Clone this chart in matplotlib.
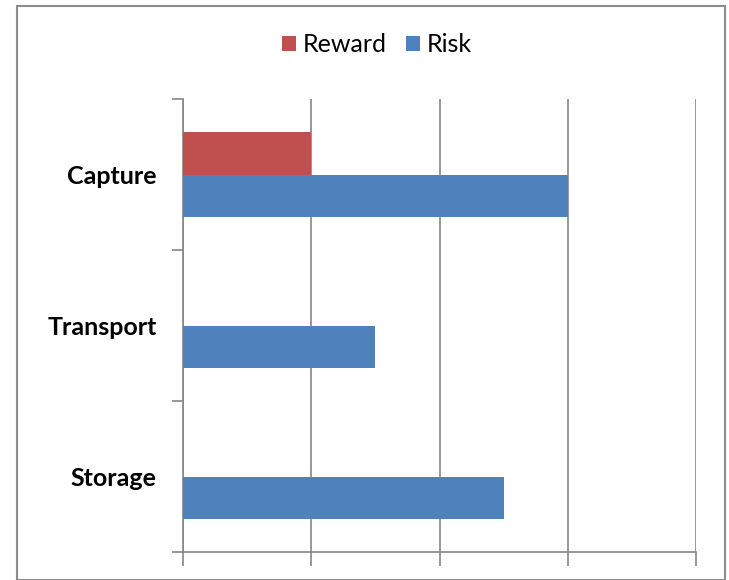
import matplotlib
matplotlib.use("Agg")
import matplotlib.pyplot as plt
import numpy as np
from matplotlib.patches import Rectangle

categories = ["Capture", "Transport", "Storage"]
reward = [1, 0, 0]
risk = [3, 1.5, 2.5]

plt.rcParams['font.family'] = ['Lato', 'DejaVu Sans']

fig = plt.figure(figsize=(7.29, 5.80), dpi=100)
ax = fig.add_axes([183/729, 28/580, (696-183)/729, (552-99)/580])

ypos = np.arange(len(categories))[::-1]
h = 0.28
ax.barh(ypos + h/2, reward, height=h, color="#C0504D", label="Reward", zorder=3)
ax.barh(ypos - h/2, risk, height=h, color="#4F81BD", label="Risk", zorder=3)

ax.set_xlim(0, 4)
ax.set_ylim(-0.5, 2.5)
ax.set_xticks(np.arange(0, 5, 1))
ax.set_xticklabels([])
ax.xaxis.grid(True, color="#868686", linewidth=1.2, zorder=0)
ax.set_yticks(np.arange(-0.5, 3, 1))
ax.set_yticklabels([])
ax.set_yticks(ypos, minor=True)
ax.set_yticklabels(categories, minor=True, fontsize=18, fontweight="bold")
ax.tick_params(axis="y", which="minor", length=0, pad=19)
ax.tick_params(axis="y", which="major", length=8, color="#868686", width=1.2)
ax.tick_params(axis="x", which="major", length=10, color="#868686", width=1.2)
for s in ["top", "right"]:
    ax.spines[s].set_visible(False)
for s in ["left", "bottom"]:
    ax.spines[s].set_color("#868686")
    ax.spines[s].set_linewidth(1.2)

fig.legend(loc="center", bbox_to_anchor=(377/729, 1 - 45/580), ncol=2, frameon=False,
           fontsize=18, handlelength=0.56, handleheight=0.56, handletextpad=0.25, columnspacing=0.8)

fig.patches.append(Rectangle((17/729, 0), (725-17)/729, (580-6)/580, transform=fig.transFigure,
                             fill=False, edgecolor="#8c8c8c", linewidth=1.5))

fig.savefig("out.png", dpi=100)
